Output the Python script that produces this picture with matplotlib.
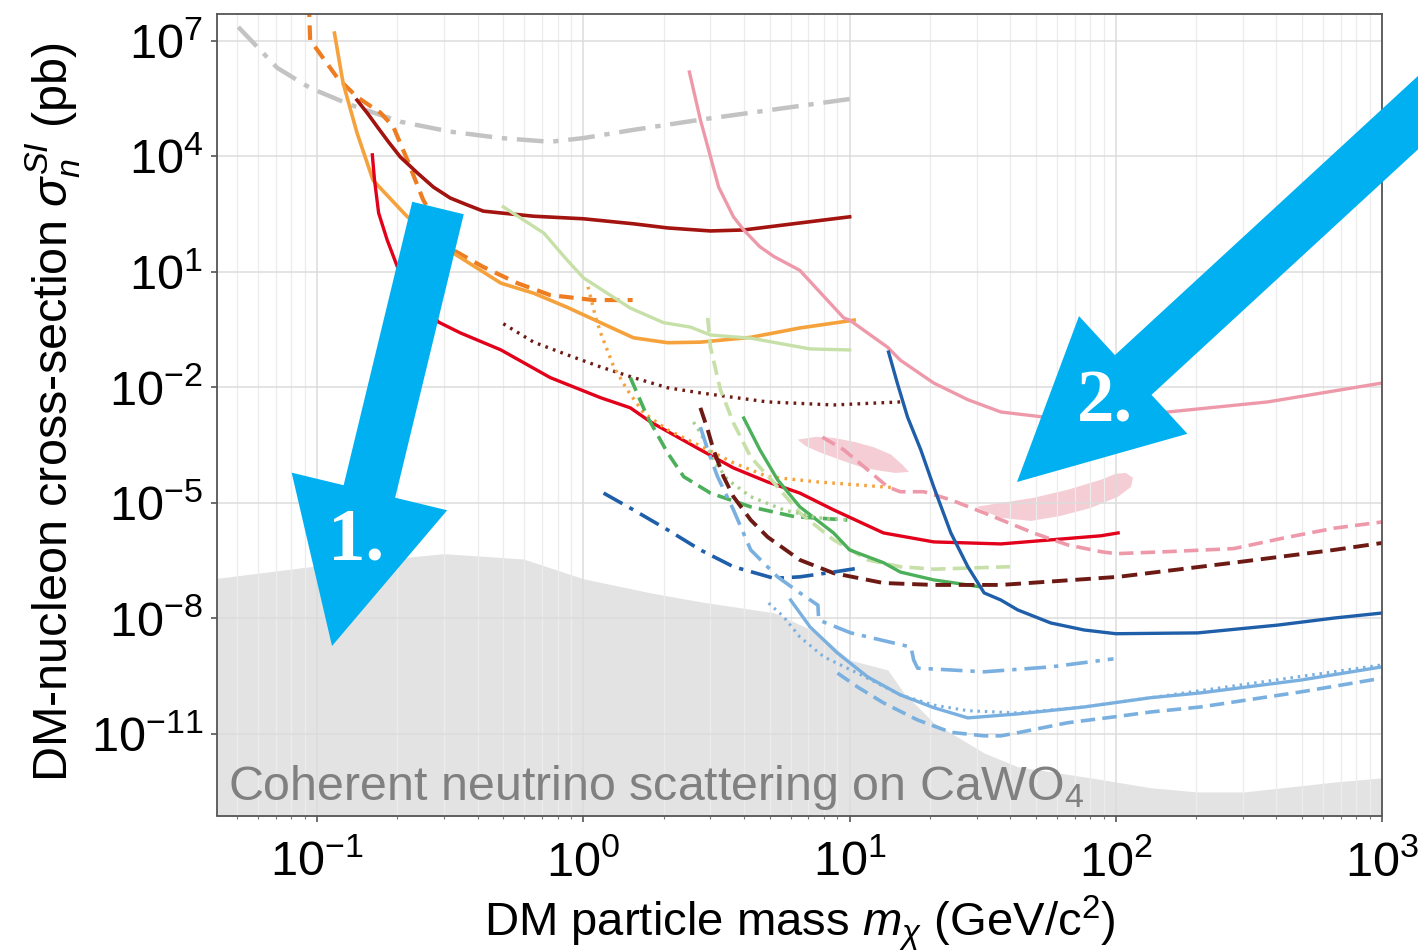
import matplotlib
matplotlib.use('Agg')
import matplotlib.pyplot as plt
from matplotlib import ticker
from matplotlib.transforms import IdentityTransform
from matplotlib.patches import FancyArrow

plt.rcParams['font.family'] = ['Liberation Sans', 'DejaVu Sans']
plt.rcParams['mathtext.fontset'] = 'custom'
plt.rcParams['mathtext.rm'] = 'Liberation Sans'
plt.rcParams['mathtext.it'] = 'Liberation Sans:italic'
plt.rcParams['mathtext.bf'] = 'Liberation Sans:bold'

# ---- data ----
gray_dd_x = [0.0505, 0.0707, 0.094, 0.133, 0.205, 0.316, 0.49, 0.75, 1.0, 1.54, 2.75, 10.0]
gray_dd_y = [2.3e7, 2.0e6, 6e5, 2.2e5, 8e4, 4.4e4, 3e4, 2.4e4, 3e4, 4.9e4, 9e4, 3.1e5]

orange_dash_x = [0.093, 0.094, 0.119, 0.141, 0.173, 0.193, 0.218, 0.25, 0.324, 0.42, 0.565, 0.75, 1.09, 1.53]
orange_dash_y = [1e8, 1.06e7, 1.1e6, 3.5e5, 1.35e5, 5.9e4, 8.1e3, 740, 37, 13.5, 5.1, 2.5, 1.86, 1.86]

lorange_x = [0.116, 0.125, 0.141, 0.162, 0.218, 0.324, 0.49, 0.65, 0.87, 1.16, 1.54, 2.07, 2.75, 4.25, 6.5, 10.4]
lorange_y = [1.6e7, 8.1e5, 4.1e4, 2.4e3, 270, 31, 5.1, 2.8, 1.2, 0.48, 0.195, 0.145, 0.15, 0.2, 0.35, 0.56]

darkred_x = [0.141, 0.154, 0.168, 0.185, 0.205, 0.238, 0.273, 0.316, 0.366, 0.42, 0.49, 0.65, 1.0,
             1.54, 2.07, 3.0, 4.0, 6.5, 10.0]
darkred_y = [2.9e5, 1.35e5, 5.9e4, 2.4e4, 9.7e3, 3.7e3, 1.6e3, 830, 550, 380, 340, 280, 240,
             178, 139, 116, 123, 187, 270]

red_x = [0.161, 0.164, 0.17, 0.183, 0.2, 0.285, 0.345, 0.49, 0.75, 1.16, 1.5, 1.79, 2.75, 3.66,
         4.92, 6.5, 8.7, 13.4, 20.7, 37, 88, 102]
red_y = [1.1e4, 2.5e3, 340, 68, 13.5, 0.5, 0.26, 0.094, 0.018, 5.4e-3, 2.95e-3, 1.26e-3, 2.4e-4, 8.1e-5,
         3.5e-5, 1.8e-5, 6.6e-6, 1.66e-6, 9.7e-7, 8.6e-7, 1.4e-6, 1.66e-6]

lgreen_x = [0.5, 0.71, 0.87, 1.0, 1.5, 2.0, 2.52, 3.0, 4.25, 7.1, 10.0]
lgreen_y = [490, 102, 20, 7, 1.15, 0.48, 0.37, 0.23, 0.19, 0.1, 0.094]

pink_x = [2.5, 2.75, 2.93, 3.22, 3.66, 4.0, 4.6, 5.2, 6.5, 7.6, 9.5, 10, 13.9, 15.5, 20.7, 27.8, 37,
          53.6, 157, 372, 1000]
pink_y = [1.56e6, 8.9e4, 1.8e4, 1.6e3, 270, 123, 45, 25, 11, 3.4, 0.64, 0.56, 0.11, 0.051, 0.013,
          4.8e-3, 2.3e-3, 1.7e-3, 2.3e-3, 4.2e-3, 0.013]

brown_dot_x = [0.5, 0.65, 0.87, 1.16, 1.54, 2.07, 2.75, 4.92, 8.7, 15.5]
brown_dot_y = [0.45, 0.15, 0.07, 0.034, 0.018, 9.8e-3, 7.2e-3, 4.2e-3, 3.5e-3, 4.2e-3]

orange_dot_x = [1.04, 1.11, 1.16, 1.3, 1.46, 1.68, 2.07, 2.75, 3.66, 4.92, 7.6, 14.6]
orange_dot_y = [4.1, 0.68, 0.26, 0.034, 8.7e-3, 2.2e-3, 7.9e-4, 3e-4, 1.1e-4, 4.8e-5, 3.5e-5, 2.5e-5]

green_dash_x = [1.5, 1.74, 2.07, 2.38, 3.0, 4.25, 6.2, 9.8]
green_dash_y = [0.018, 1.7e-3, 2e-4, 4.8e-5, 1.8e-5, 7.9e-6, 4.4e-6, 3.6e-6]

lgreen_dash_x = [2.93, 3.0, 3.27, 3.66, 4.25, 5.2, 6.5, 8.7, 11.7, 15.5, 20.7, 40]
lgreen_dash_y = [0.64, 0.11, 8.7e-3, 1.2e-3, 1.55e-4, 3.3e-5, 5.5e-6, 1.1e-6, 3.3e-7, 2.2e-7, 1.9e-7, 2.2e-7]

green_x = [4.0, 4.6, 5.36, 6.5, 8.7, 10, 13.4, 15.5, 20.7, 27.8, 31]
green_y = [1.6e-3, 2.4e-4, 4e-5, 7.9e-6, 1.66e-6, 6e-7, 2.8e-7, 1.6e-7, 1e-7, 7.4e-8, 6.6e-8]

lgreen_dot_x = [2.59, 2.75, 3.08, 3.48, 4.25, 5.65, 7.6, 10]
lgreen_dot_y = [1.26e-3, 6.6e-4, 1.3e-4, 4e-5, 1.45e-5, 6.6e-6, 4.1e-6, 3.6e-6]

brown_dash_x = [2.75, 2.93, 3.08, 3.36, 3.66, 4.25, 4.92, 6.5, 8.7, 13.4, 20.7, 37, 102, 277, 660, 1000]
brown_dash_y = [2.95e-3, 7.9e-4, 2.4e-4, 4.8e-5, 1.45e-5, 3.6e-6, 1.3e-6, 3.3e-7, 1.5e-7, 8.3e-8,
                7.4e-8, 7.4e-8, 1.2e-7, 2.8e-7, 6e-7, 9.1e-7]

pink_dash_x = [7.9, 9.5, 11.7, 13.9, 15.5, 19, 24, 32, 49, 66, 88, 100, 155, 277, 428, 660, 1000]
pink_dash_y = [5.1e-4, 2.4e-4, 7.2e-5, 2.6e-5, 1.95e-5, 1.95e-5, 1.2e-5, 5.5e-6, 1.66e-6, 8.1e-7,
               5.4e-7, 4.8e-7, 5.4e-7, 6.5e-7, 1.23e-6, 2.2e-6, 3.2e-6]

blue_x = [14, 15.1, 16.5, 18.5, 20.7, 24, 27.8, 32, 37, 42.8, 57, 76, 100, 203, 406, 660, 1000]
blue_y = [0.083, 0.013, 1.7e-3, 2.4e-4, 2.6e-5, 1.66e-6, 2.2e-7, 4.6e-8, 3e-8, 1.66e-8, 7.6e-9,
          5e-9, 4e-9, 4.2e-9, 6.7e-9, 1.02e-8, 1.38e-8]

blue_dd_x = [1.19, 1.54, 2.07, 2.75, 3.66, 5.2, 6.5, 8.7, 10.7]
blue_dd_y = [1.8e-5, 6.6e-6, 2e-6, 6e-7, 2.2e-7, 1.1e-7, 1.2e-7, 1.6e-7, 2e-7]

lblue_dd_x = [2.75, 2.93, 3.19, 3.66, 4.25, 5.36, 6.5, 7.6, 7.65, 10.1, 17, 17.4, 18, 32, 57, 98]
lblue_dd_y = [9.3e-4, 2.4e-4, 4.8e-5, 6.6e-6, 6e-7, 1.2e-7, 4.6e-8, 2.2e-8, 9.1e-9, 4.2e-9, 1.8e-9,
              8.3e-10, 5.1e-10, 4.1e-10, 5.5e-10, 8.9e-10]

lblue_x = [6.0, 7.1, 9.0, 11.7, 15.5, 20.7, 27.8, 42.8, 76, 135, 208, 495, 1000]
lblue_y = [3e-8, 6e-9, 1.26e-9, 3e-10, 1.03e-10, 4.8e-11, 2.6e-11, 3.3e-11, 5e-11, 8.7e-11,
           1.16e-10, 2.5e-10, 5.5e-10]

lblue_dot_x = [4.96, 5.65, 6.5, 8.0, 10.7, 15.5, 20.7, 27.8, 42.8, 76, 135, 1000]
lblue_dot_y = [2.5e-8, 1.1e-8, 3.3e-9, 1e-9, 3.8e-10, 1.03e-10, 5.6e-11, 4e-11, 3.5e-11, 5e-11,
               8.7e-11, 6.2e-10]

lblue_dash_x = [9.0, 10.7, 13.4, 18, 24, 32, 37, 42.8, 66, 100, 135, 208, 495, 1000]
lblue_dash_y = [3.8e-10, 1.66e-10, 6.4e-11, 2.3e-11, 1.1e-11, 8.9e-12, 8.9e-12, 1.07e-11, 1.95e-11,
                2.8e-11, 3.7e-11, 5e-11, 1.23e-10, 2.8e-10]

# signal regions (pink blobs)
blob1_x = [6.38, 7.45, 8.7, 10.5, 12.3, 14.3, 15.8, 16.7, 14.9, 13.1, 11.0, 9.25, 7.8, 6.83]
blob1_y = [4.4e-4, 5.2e-4, 4.9e-4, 3.8e-4, 2.8e-4, 1.8e-4, 9.7e-5, 6.4e-5, 6e-5, 6.8e-5, 8.6e-5,
           1.3e-4, 2e-4, 3e-4]
blob2_x = [29.8, 37, 49, 66, 88, 100, 109, 116, 114, 102, 80.5, 62, 48, 37, 32.5]
blob2_y = [7.9e-6, 1e-5, 1.35e-5, 2.2e-5, 4e-5, 5.7e-5, 6e-5, 4.5e-5, 2.6e-5, 1.45e-5, 7.4e-6,
           4.6e-6, 3.4e-6, 4.1e-6, 5.9e-6]

# neutrino floor
nu_x = [0.042, 0.094, 0.298, 0.594, 1.0, 1.79, 2.75, 5.2, 7.6, 10, 13.9, 16, 20.7, 32, 42.8, 80.5,
        135, 203, 303, 660, 1000]
nu_y = [1.1e-7, 2.2e-7, 4.8e-7, 3.5e-7, 1.07e-7, 4.6e-8, 2.7e-8, 1.4e-8, 4.2e-9, 8.3e-10, 4.6e-10,
        1.15e-10, 1.95e-11, 3.2e-12, 1.4e-12, 7.2e-13, 4e-13, 3.1e-13, 3.1e-13, 5.6e-13, 7.2e-13]

y_ticks = [1e-11, 1e-8, 1e-5, 1e-2, 1e1, 1e4, 1e7]

DD = (0, (6, 2.2, 1.2, 2.2))
curves = [
    (gray_dd_x, gray_dd_y, '#c3c3c3', DD, 3.2),
    (orange_dash_x, orange_dash_y, '#ee7d22', (0, (3.5, 2)), 3.0),
    (lorange_x, lorange_y, '#f5a23c', '-', 2.6),
    (darkred_x, darkred_y, '#a3130f', '-', 2.6),
    (red_x, red_y, '#e2001a', '-', 2.4),
    (lgreen_x, lgreen_y, '#c6e0a8', '-', 2.4),
    (pink_x, pink_y, '#ee99aa', '-', 2.4),
    (brown_dot_x, brown_dot_y, '#6e1a14', (0, (0.8, 1.6)), 2.4),
    (orange_dot_x, orange_dot_y, '#f5a23c', (0, (0.8, 1.6)), 2.4),
    (green_dash_x, green_dash_y, '#4caf5a', (0, (4, 2)), 2.6),
    (lgreen_dash_x, lgreen_dash_y, '#c6e0a8', (0, (4, 2)), 2.6),
    (green_x, green_y, '#4caf5a', '-', 2.4),
    (lgreen_dot_x, lgreen_dot_y, '#a8d08d', (0, (0.8, 1.6)), 2.4),
    (brown_dash_x, brown_dash_y, '#6e1a14', (0, (4, 2)), 2.8),
    (pink_dash_x, pink_dash_y, '#ee99aa', (0, (4, 2)), 2.6),
    (blue_x, blue_y, '#1f5faa', '-', 2.4),
    (blue_dd_x, blue_dd_y, '#1f5faa', DD, 2.6),
    (lblue_dd_x, lblue_dd_y, '#7ab0e0', DD, 2.6),
    (lblue_x, lblue_y, '#7ab0e0', '-', 2.4),
    (lblue_dot_x, lblue_dot_y, '#7ab0e0', (0, (0.8, 1.6)), 2.2),
    (lblue_dash_x, lblue_dash_y, '#7ab0e0', (0, (4, 2)), 2.6),
]

fig = plt.figure(figsize=(14.18, 9.52), dpi=100)
ax = fig.add_axes([217 / 1418, 1 - 815.5 / 952, 1165 / 1418, 801.5 / 952])
ax.set_xscale('log')
ax.set_yscale('log')
ax.set_xlim(0.042, 1000)
ax.set_ylim(10 ** -13.12, 10 ** 7.7)

ax.fill_between(nu_x, nu_y, 1e-14, color='#e3e3e3', lw=0, zorder=0.2)
ax.fill(blob1_x, blob1_y, color='#f5cdd5', lw=0, zorder=0.3)
ax.fill(blob2_x, blob2_y, color='#f5cdd5', lw=0, zorder=0.3)

for xs, ys, col, ls, lw in curves:
    ax.plot(xs, ys, color=col, ls=ls, lw=lw, zorder=2)

ax.text(0.0094, 0.019, 'Coherent neutrino scattering on CaWO$_4$', transform=ax.transAxes,
        fontsize=34.8, color='#808080', va='baseline', ha='left', zorder=1)

# axes styling
ax.yaxis.set_major_locator(ticker.FixedLocator(y_ticks))
ax.yaxis.set_major_formatter(ticker.LogFormatterMathtext())
ax.yaxis.set_minor_locator(ticker.NullLocator())
ax.xaxis.set_major_locator(ticker.LogLocator(base=10, numticks=20))
ax.xaxis.set_minor_locator(ticker.LogLocator(base=10, subs=range(2, 10), numticks=20))
ax.xaxis.set_minor_formatter(ticker.NullFormatter())
ax.grid(True, which='major', color='#dcdcdc', lw=1.1)
ax.grid(True, which='minor', axis='x', color='#ececec', lw=0.9)
ax.set_axisbelow(True)
for s in ax.spines.values():
    s.set_color('#555555')
    s.set_linewidth(1.3)
ax.tick_params(which='major', length=4, width=1.2, color='#555555', labelsize=35, pad=6)
ax.tick_params(axis='x', which='major', pad=14)
ax.tick_params(which='minor', length=2.5, width=0.8, color='#777777')

ax.set_xlabel(r'DM particle mass $m_\chi$ (GeV/c$^2$)', fontsize=34)
ax.xaxis.set_label_coords(0.5, -0.097)

ax.set_ylabel(r'DM-nucleon cross-section $\sigma_n^{SI}$ (pb)', fontsize=35)
ax.yaxis.set_label_coords(-0.116, 0.503)

# big annotation arrows (pixel coordinates of the figure)
px = IdentityTransform()
arrow1 = FancyArrow(438, 952 - 208, -106, -(646 - 208), width=53, head_width=160, head_length=159,
                    length_includes_head=True, color='#00b0f0', lw=0, transform=px)
arrow2 = FancyArrow(1473, 890, -456, -420, width=54, head_width=160, head_length=158,
                    length_includes_head=True, color='#00b0f0', lw=0, transform=px)
fig.add_artist(arrow1)
fig.add_artist(arrow2)
fig.text(356, 952 - 541, '1.', transform=px, fontsize=54, color='white', family='Liberation Serif',
         weight='bold', ha='center', va='center')
fig.text(1105, 952 - 403, '2.', transform=px, fontsize=54, color='white', family='Liberation Serif',
         weight='bold', ha='center', va='center')

fig.savefig('out.png', dpi=100)
